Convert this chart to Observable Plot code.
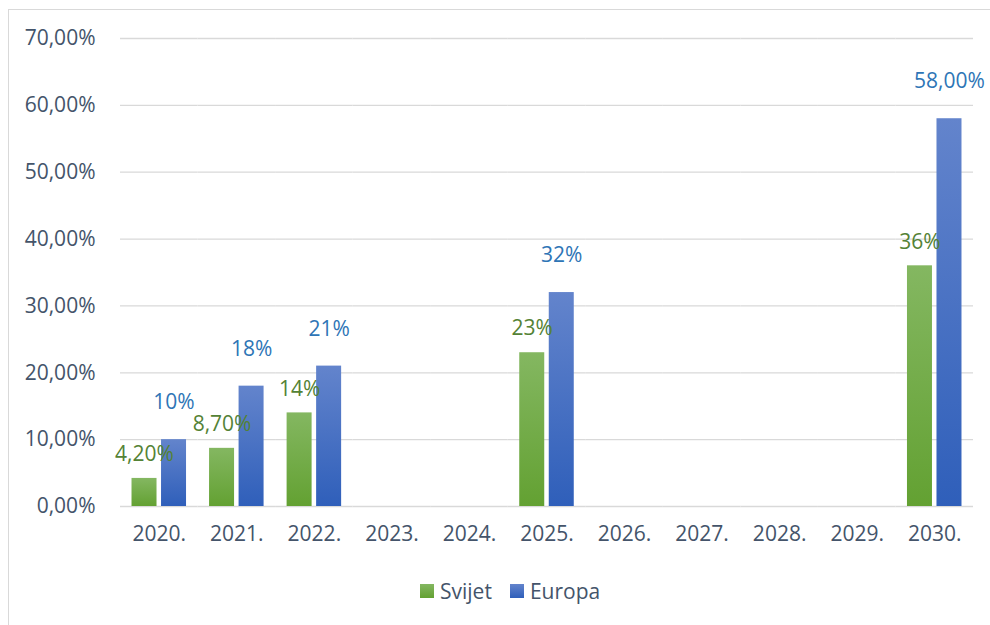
<!DOCTYPE html>
<html>
<head>
<meta charset="utf-8">
<script src="https://cdn.jsdelivr.net/npm/d3@7"></script>
<script src="https://cdn.jsdelivr.net/npm/@observablehq/plot@0.6"></script>
<style>
  html, body { margin: 0; padding: 0; background: #fff; }
  #wrap { position: relative; width: 990px; height: 625px; overflow: hidden; font-family: "Open Sans", sans-serif; }
  #frame { position: absolute; left: 8px; top: 9px; width: 1000px; height: 640px; border: 1px solid #d9d9d9; box-sizing: border-box; }
  #chart { position: absolute; left: 0; top: 0; }
  #legend { position: absolute; left: 420px; top: 577px; display: flex; align-items: center; font-size: 21px; color: #44546a; }
  .sw { width: 14px; height: 14px; display: inline-block; margin-right: 6px; }
  .item { display: flex; align-items: center; margin-right: 18px; }
</style>
</head>
<body>
<div id="wrap">
  <div id="frame"></div>
  <div id="chart"></div>
  <div id="legend">
    <div class="item"><span class="sw" style="background:linear-gradient(#84b761,#63a132)"></span>Svijet</div>
    <div class="item"><span class="sw" style="background:linear-gradient(#6384cc,#2f5fba)"></span>Europa</div>
  </div>
</div>
<script>
const years = ["2020.","2021.","2022.","2023.","2024.","2025.","2026.","2027.","2028.","2029.","2030."];
const series = ["Svijet","Europa"];
const dataYears = ["2020.","2021.","2022.","2025.","2030."];
const svijet = [4.2, 8.7, 14, 23, 36];
const svijetLabels = ["4,20%","8,70%","14%","23%","36%"];
const europa = [10, 18, 21, 32, 58];
const europaLabels = ["10%","18%","21%","32%","58,00%"];
const yTicks = [0,10,20,30,40,50,60,70];

const svijetRows = dataYears.map((y,i) => ({year: y, series: "Svijet", value: svijet[i], label: svijetLabels[i]}));
const europaRows = dataYears.map((y,i) => ({year: y, series: "Europa", value: europa[i], label: europaLabels[i]}));
const gridRows = years.flatMap(y => yTicks.map(t => ({year: y, tick: t})));

const defs = () => {
  const d = d3.create("svg:defs");
  const g1 = d.append("linearGradient").attr("id","gGreen").attr("x1",0).attr("y1",0).attr("x2",0).attr("y2",1);
  g1.append("stop").attr("offset","0%").attr("stop-color","#84b761");
  g1.append("stop").attr("offset","100%").attr("stop-color","#63a132");
  const g2 = d.append("linearGradient").attr("id","gBlue").attr("x1",0).attr("y1",0).attr("x2",0).attr("y2",1);
  g2.append("stop").attr("offset","0%").attr("stop-color","#6384cc");
  g2.append("stop").attr("offset","100%").attr("stop-color","#2f5fba");
  return d.node();
};

const chart = Plot.plot({
  width: 990,
  height: 560,
  marginLeft: 120,
  marginRight: 17,
  marginTop: 38,
  marginBottom: 54,
  style: {fontFamily: "Open Sans, sans-serif", fontSize: "21px", color: "#44546a", background: "transparent"},
  fx: {domain: years, padding: 0, round: false, label: null},
  x: {domain: series, paddingInner: 0.153, paddingOuter: 0.39, round: false, axis: null},
  y: {domain: [0, 70], label: null},
  marks: [
    defs,
    Plot.ruleY(gridRows, {fx: "year", y: "tick", stroke: "#d9d9d9", strokeWidth: 1.3}),
    Plot.axisY(yTicks, {anchor: "left", facetAnchor: "left", tickSize: 0, tickPadding: 25, label: null,
      fontSize: 21, tickFormat: d => d.toFixed(2).replace(".", ",") + "%"}),
    Plot.axisFx({anchor: "bottom", tickSize: 0, tickPadding: 20, label: null, fontSize: 21}),
    Plot.barY(svijetRows, {fx: "year", x: "series", y: "value", fill: "url(#gGreen)"}),
    Plot.barY(europaRows, {fx: "year", x: "series", y: "value", fill: "url(#gBlue)"}),
    Plot.text(svijetRows, {fx: "year", x: "series", y: "value", text: "label", dy: -24, fill: "#548235", fontSize: 21}),
    Plot.text(europaRows, {fx: "year", x: "series", y: "value", text: "label", dy: -37, fill: "#2e75b6", fontSize: 21})
  ]
});
document.getElementById("chart").appendChild(chart);
</script>
</body>
</html>
